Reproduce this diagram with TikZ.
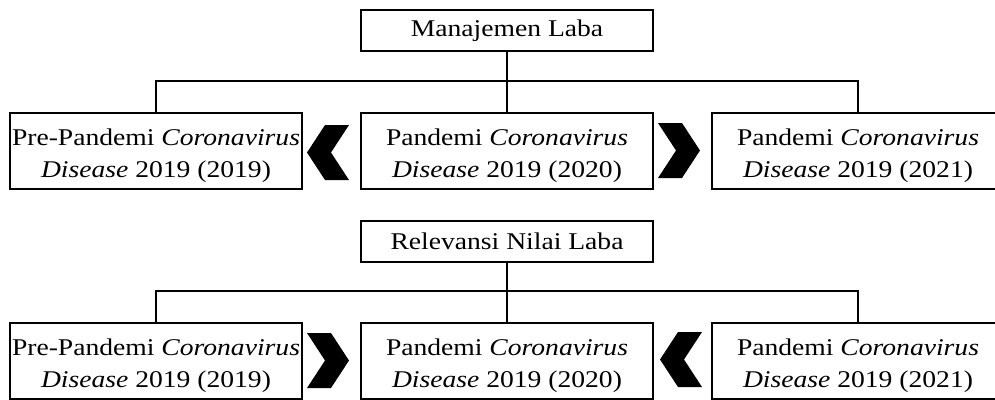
\documentclass[tikz,border=0pt]{standalone}
\usepackage{fontspec}
\setmainfont{Liberation Serif}[FakeStretch=1.15]
\usetikzlibrary{positioning}
\tikzset{
  kotak/.style={draw,line width=2pt,minimum width=292pt,minimum height=76pt,
    inner sep=0pt,align=center,font=\fontsize{24}{32}\selectfont,
    text height=56pt,text depth=4pt},
  judul/.style={draw,line width=2pt,minimum width=292pt,minimum height=41pt,
    inner sep=0pt,font=\fontsize{24}{32}\selectfont},
  garis/.style={line width=1.7pt},
  panahkiri/.pic={\fill (21,-27.5)--(-3,-27.5)--(-21,0)--(-3,27.5)--(21,27.5)--(3,0)--cycle;},
  panahkanan/.pic={\fill (-21,-27.5)--(3,-27.5)--(21,0)--(3,27.5)--(-21,27.5)--(-3,0)--cycle;}
}

\begin{document}
\begin{tikzpicture}[x=1pt,y=-1pt]
\useasboundingbox (0,0) rectangle (995,399);
\clip (0,0) rectangle (995,399);

% Manajemen Laba
\node[judul] (ml) at (507,30.5) {Manajemen Laba};
\node[kotak] (ml1) at (156,151) {Pre-Pandemi \textit{Coronavirus}\\\textit{Disease} 2019 (2019)};
\node[kotak] (ml2) at (507,151) {Pandemi \textit{Coronavirus}\\\textit{Disease} 2019 (2020)};
\node[kotak] (ml3) at (858,151) {Pandemi \textit{Coronavirus}\\\textit{Disease} 2019 (2021)};
\draw[garis] (ml.south) -- (ml2.north);
\draw[garis] (ml1.north) -- ++(0,-31) -| (ml3.north);
\pic at (328,152.5) {panahkiri};
\pic at (679,150.5) {panahkanan};

% Relevansi Nilai Laba
\node[judul] (rn) at (507,241) {Relevansi Nilai Laba};
\node[kotak] (rn1) at (156,361) {Pre-Pandemi \textit{Coronavirus}\\\textit{Disease} 2019 (2019)};
\node[kotak] (rn2) at (507,361) {Pandemi \textit{Coronavirus}\\\textit{Disease} 2019 (2020)};
\node[kotak] (rn3) at (858,361) {Pandemi \textit{Coronavirus}\\\textit{Disease} 2019 (2021)};
\draw[garis] (rn.south) -- (rn2.north);
\draw[garis] (rn1.north) -- ++(0,-31) -| (rn3.north);
\pic at (328,360.5) {panahkanan};
\pic at (681,359.5) {panahkiri};

\end{tikzpicture}
\end{document}
